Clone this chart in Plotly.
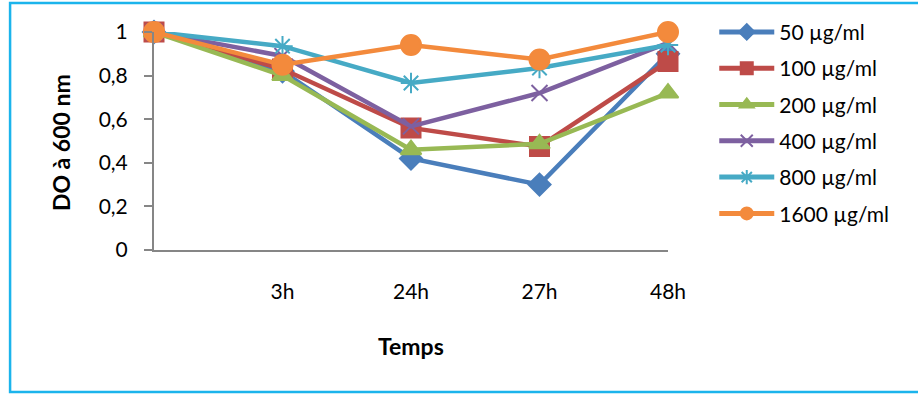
import plotly.graph_objects as go

times = ["", "3h", "24h", "27h", "48h"]
series_names = ["50 µg/ml", "100 µg/ml", "200 µg/ml", "400 µg/ml", "800 µg/ml", "1600 µg/ml"]
s50 = [1.0, 0.82, 0.42, 0.30, 0.90]
s100 = [1.0, 0.83, 0.56, 0.475, 0.865]
s200 = [1.0, 0.80, 0.46, 0.487, 0.72]
s400 = [1.0, 0.89, 0.567, 0.72, 0.95]
s800 = [1.0, 0.935, 0.766, 0.835, 0.94]
s1600 = [1.0, 0.85, 0.94, 0.874, 1.0]
values = [s50, s100, s200, s400, s800, s1600]

colors = ["#4A7EBB", "#BE4B48", "#98B954", "#7D60A0", "#46AAC5", "#F38A3C"]
symbols = ["diamond", "square", "triangle-up", "x-thin", "asterisk-open", "circle"]
sizes = [17, 19, 18, 16, 17, 20]

x = list(range(len(times)))
fig = go.Figure()
for name, vals, c, sym, sz in zip(series_names, values, colors, symbols, sizes):
    mk = dict(symbol=sym, size=sz, color=c, line=dict(color=c, width=2))
    fig.add_trace(go.Scatter(
        x=x, y=vals, name=name, mode="lines+markers",
        line=dict(color=c, width=4.5), marker=mk, cliponaxis=False,
        legendgroup=name,
    ))

font = "Lato, 'Open Sans', sans-serif"
fig.update_layout(
    width=918, height=394,
    margin=dict(l=154, r=250, t=32, b=144, autoexpand=False),
    paper_bgcolor="white", plot_bgcolor="white",
    font=dict(family=font, size=21, color="#000000"),
    showlegend=True,
    legend=dict(x=1.09, y=1.093, xanchor="left", yanchor="top",
                font=dict(size=21), tracegroupgap=6, itemsizing="constant",
                itemwidth=55, maxheight=380,
                bgcolor="rgba(0,0,0,0)"),
    xaxis=dict(range=[0, 4], tickvals=x, ticktext=times, showgrid=False,
               zeroline=False, showline=True, linecolor="#868686", linewidth=2,
               ticks="", ticklabelstandoff=22),
    yaxis=dict(range=[0, 1], tickvals=[0, 0.2, 0.4, 0.6, 0.8, 1],
               ticktext=["0", "0,2", "0,4", "0,6", "0,8", "1"],
               showgrid=False, zeroline=False, showline=True, linecolor="#868686",
               linewidth=2, ticks="outside", ticklen=8, tickcolor="#868686",
               tickwidth=2, ticklabelstandoff=12),
    shapes=[dict(type="rect", xref="paper", yref="paper", x0=-0.28, x1=1.5,
                 y0=-0.651, y1=1.133, line=dict(color="#1BB4EC", width=2.5))],
    annotations=[
        dict(text="<b>DO à 600 nm</b>", xref="paper", yref="paper", x=-0.181, y=0.495,
             textangle=-90, showarrow=False, font=dict(size=23, family=font),
             xanchor="center", yanchor="middle"),
        dict(text="<b>Temps</b>", xref="paper", yref="paper", x=0.5, y=-0.44,
             showarrow=False, font=dict(size=23, family=font),
             xanchor="center", yanchor="middle"),
    ],
)
fig.write_html("out.html")
